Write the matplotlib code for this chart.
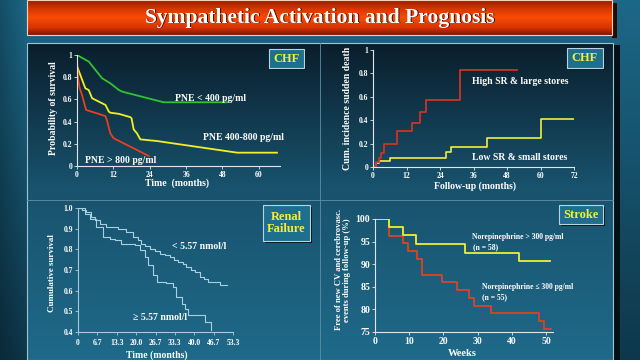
import numpy as np
import matplotlib
matplotlib.use("Agg")
import matplotlib.pyplot as plt
from matplotlib.patches import Rectangle

plt.rcParams['font.family'] = ['Liberation Serif', 'DejaVu Serif']
plt.rcParams['font.weight'] = 'bold'

# ---- data ----
# CHF: survival by plasma norepinephrine (months)
pne_low_t = [0, 3.9, 8.3, 11, 13.8, 14.9, 28.6, 49.5]
pne_low_s = [1.0, 0.94, 0.79, 0.745, 0.685, 0.67, 0.574, 0.574]
pne_mid_t = [0, 2.75, 3.85, 5, 9.4, 10.5, 11, 13.8, 17.6, 18, 18.7, 19.8, 20.9, 26.4, 52.9, 66]
pne_mid_s = [0.9, 0.70, 0.685, 0.61, 0.55, 0.49, 0.48, 0.47, 0.44, 0.43, 0.33, 0.294, 0.24, 0.225, 0.12, 0.12]
pne_high_t = [0, 0.2, 0.8, 1.65, 3, 9.4, 9.9, 11, 12.1, 23.7]
pne_high_s = [1.0, 0.83, 0.71, 0.64, 0.505, 0.45, 0.41, 0.294, 0.25, 0.09]

# CHF: cumulative incidence of sudden death
sr_high_t = [0, 1, 2, 3, 4, 8.5, 14, 17, 19, 31, 51.5]
sr_high_c = [0, 0.04, 0.08, 0.12, 0.2, 0.31, 0.38, 0.47, 0.57, 0.83, 0.83]
sr_low_t = [0, 1, 2, 6, 26, 28, 41, 60, 72]
sr_low_c = [0, 0.03, 0.05, 0.075, 0.125, 0.175, 0.25, 0.41, 0.41]

# Renal failure: cumulative survival
ne_lt_t = [0, 1.5, 2.9, 4.6, 6, 7.5, 9.8, 13.8, 16.6, 18.9, 20.5, 21.8, 23.2, 24.7, 26.5,
           28.1, 30, 31.6, 33, 34.4, 36, 37.3, 38.8, 40.2, 41.9, 43.4, 44.8, 48.8, 51.1]
ne_lt_s = [1.0, 0.99, 0.98, 0.956, 0.94, 0.924, 0.908, 0.9, 0.884, 0.86, 0.845, 0.827, 0.815, 0.803, 0.79,
           0.779, 0.771, 0.763, 0.75, 0.739, 0.727, 0.715, 0.70, 0.69, 0.666, 0.655, 0.642, 0.629, 0.626]
ne_ge_t = [0, 2.3, 4, 6.3, 8.6, 10.9, 12.6, 14.9, 19.5, 21.2, 23, 24.1, 25.8, 27, 30.4,
           32.7, 33.8, 35.6, 36.7, 37.9, 43, 43.6, 45.9]
ne_ge_s = [1.0, 0.973, 0.948, 0.908, 0.86, 0.852, 0.844, 0.827, 0.819, 0.795, 0.763, 0.723, 0.674, 0.642, 0.639,
           0.618, 0.569, 0.537, 0.513, 0.481, 0.481, 0.448, 0.408]

# Stroke: free of new events (%), weeks
st_high_t = [0, 4.2, 8.1, 11.9, 26.3, 42.1, 51.2]
st_high_v = [100, 98.2, 96.5, 94.4, 92.4, 90.6, 90.6]
st_low_t = [0, 4, 8.1, 9.5, 12.2, 13.6, 19.5, 24, 27.5, 29, 34, 47.8, 49.5, 51.5]
st_low_v = [100, 96.3, 94.7, 93, 91.2, 87.7, 86, 84.2, 82.6, 80.8, 79.1, 77.4, 75.7, 75.7]

W, H = 640, 360
fig = plt.figure(figsize=(6.4, 3.6), dpi=100)


def rect(x0, y0, x1, y1):
    return [x0 / W, 1 - y1 / H, (x1 - x0) / W, (y1 - y0) / H]


def ramp(n, knots, cols):
    t = np.linspace(0, 1, n)
    cols = np.array(cols) / 255.0
    return np.stack([np.interp(t, knots, cols[:, k]) for k in range(3)], axis=1)


# ---- slide background ----
img = np.zeros((H, W, 3))
img[:] = ramp(H, [0, 1], [(28, 104, 136), (14, 55, 74)])[:, None, :]
edge = np.clip(np.arange(W) / 27.0, 0, 1)
img[:, :27] *= (0.75 + 0.25 * edge[:27])[None, :, None]
img[43:360, 27:613] = ramp(317, [0, 0.45, 1], [(10, 30, 44), (24, 82, 108), (31, 106, 138)])[:, None, :]
img[45:360, 613:620] = (5 / 255, 15 / 255, 22 / 255)
img[0:35, 27:612] = ramp(35, [0, 0.25, 0.5, 0.8, 1],
                         [(150, 30, 0), (215, 55, 0), (250, 75, 5), (215, 52, 0), (130, 22, 0)])[:, None, :]
img[3:38, 612:617] = (40 / 255, 10 / 255, 5 / 255)

bg = fig.add_axes([0, 0, 1, 1])
bg.imshow(img, extent=(0, W, H, 0), aspect='auto', interpolation='bilinear')
bg.set_xlim(0, W)
bg.set_ylim(H, 0)
bg.axis('off')

bg.add_patch(Rectangle((27, 0), 585, 35, fill=False, ec='#f2d2bc', lw=0.8))
bg.add_patch(Rectangle((27, 43), 586, 317, fill=False, ec='#9fc4d4', lw=0.8))
bg.plot([320, 320], [43, 360], color='#5f8fa6', lw=0.6)
bg.plot([27, 613], [200, 200], color='#5f8fa6', lw=0.6)

bg.text(321, 18.5, 'Sympathetic Activation and Prognosis', color='#3a0a00',
        fontsize=15.5, ha='center', va='center')
bg.text(320, 17.5, 'Sympathetic Activation and Prognosis', color='white',
        fontsize=15.5, ha='center', va='center')


def badge(x0, y0, x1, y1, label):
    bg.add_patch(Rectangle((x0 + 2, y0 + 2), x1 - x0, y1 - y0, fc='#07131b', ec='none'))
    bg.add_patch(Rectangle((x0, y0), x1 - x0, y1 - y0, fc='#1e6f8e', ec='#b8d4e0', lw=0.8))
    bg.text((x0 + x1) / 2, (y0 + y1) / 2, label, color='#f2ee3a', fontsize=9,
            ha='center', va='center', linespacing=1.1)


badge(269, 49, 304, 68, 'CHF')
badge(567, 48, 603, 68, 'CHF')
badge(263, 205, 310, 241, 'Renal\nFailure')
badge(559, 205, 603, 224, 'Stroke')

lab = dict(color='white', ha='center', va='center')
bg.text(53, 108, 'Probability of survival', rotation=90, fontsize=7, **lab)
bg.text(177, 183, 'Time  (months)', fontsize=7, **lab)
bg.text(348, 108, 'Cum. incidence sudden death', rotation=90, fontsize=7, **lab)
bg.text(475, 186, 'Follow-up (months)', fontsize=7, **lab)
bg.text(52, 273, 'Cumulative survival', rotation=90, fontsize=6.5, **lab)
bg.text(157, 355, 'Time (months)', fontsize=7, **lab)
bg.text(343, 270, 'Free of new CV and cerebrovasc.\nevents during follow-up (%)',
        rotation=90, fontsize=6.2, linespacing=1.05, **lab)
bg.text(462, 354, 'Weeks', fontsize=7.5, **lab)


def style(ax, spine='#e0e8ee', size=5.5):
    ax.set_facecolor('none')
    for s in ['top', 'right']:
        ax.spines[s].set_visible(False)
    for s in ['left', 'bottom']:
        ax.spines[s].set_color(spine)
        ax.spines[s].set_linewidth(0.8)
    ax.tick_params(colors=spine, labelcolor='white', labelsize=size, length=2, width=0.6, pad=1.5)


# ---- panel 1 ----
ax1 = fig.add_axes(rect(77, 55, 280, 166))
style(ax1)
ax1.plot(pne_low_t, pne_low_s, color='#2fc42f', lw=1.3)
ax1.plot(pne_mid_t, pne_mid_s, color='#f2f020', lw=1.3)
ax1.plot(pne_high_t, pne_high_s, color='#e8401c', lw=1.3)
ax1.set_xlim(0, 67)
ax1.set_ylim(0, 1)
ax1.set_xticks([0, 12, 24, 36, 48, 60])
ax1.set_yticks([0, 0.2, 0.4, 0.6, 0.8, 1])
ax1.set_yticklabels(['0', '0.2', '0.4', '0.6', '0.8', '1'])
ax1.text(32.3, 0.61, 'PNE < 400 pg/ml', color='white', fontsize=7, va='center')
ax1.text(41.6, 0.26, 'PNE 400-800 pg/ml', color='white', fontsize=7, va='center')
ax1.text(2.6, 0.054, 'PNE > 800 pg/ml', color='white', fontsize=7, va='center')

# ---- panel 2 ----
ax2 = fig.add_axes(rect(373, 50, 574, 167))
style(ax2)
ax2.plot(sr_low_t, sr_low_c, color='#f0ee40', lw=1.2, drawstyle='steps-post')
ax2.plot(sr_high_t, sr_high_c, color='#cc3424', lw=1.3, drawstyle='steps-post')
ax2.set_xlim(0, 72)
ax2.set_ylim(0, 1)
ax2.set_xticks([0, 12, 24, 36, 48, 60, 72])
ax2.set_yticks([0, 0.2, 0.4, 0.6, 0.8, 1])
ax2.set_yticklabels(['0', '0.2', '0.4', '0.6', '0.8', '1'])
ax2.text(35.5, 0.727, 'High SR & large stores', color='white', fontsize=7, va='center')
ax2.text(35.5, 0.085, 'Low SR & small stores', color='white', fontsize=7, va='center')

# ---- panel 3 ----
ax3 = fig.add_axes(rect(78, 208, 233, 332))
style(ax3, spine='#a8cad8', size=5.5)
ax3.plot(ne_lt_t, ne_lt_s, color='#a8d0e0', lw=0.8, drawstyle='steps-post')
ax3.plot(ne_ge_t, ne_ge_s, color='#a8d0e0', lw=0.8, drawstyle='steps-post')
ax3.set_xlim(0, 53.3)
ax3.set_ylim(0.4, 1.0)
x3 = [0, 6.7, 13.3, 20.0, 26.7, 33.3, 40.0, 46.7, 53.3]
ax3.set_xticks(x3)
ax3.set_xticklabels(['0', '6.7', '13.3', '20.0', '26.7', '33.3', '40.0', '46.7', '53.3'])
ax3.set_yticks([0.4, 0.5, 0.6, 0.7, 0.8, 0.9, 1.0])
ax3.set_yticklabels(['0.4', '0.5', '0.6', '0.7', '0.8', '0.9', '1.0'])
ax3.tick_params(axis='x', pad=3)
ax3.text(32.3, 0.816, '< 5.57 nmol/l', color='white', fontsize=7, va='center')
ax3.text(18.9, 0.468, '\u2265 5.57 nmol/l', color='white', fontsize=7, va='center')

# ---- panel 4 ----
ax4 = fig.add_axes(rect(375, 219, 553, 332))
style(ax4, size=7)
ax4.plot(st_low_t, st_low_v, color='#dc4420', lw=1.3, drawstyle='steps-post')
ax4.plot(st_high_t, st_high_v, color='#f2ee30', lw=1.3, drawstyle='steps-post')
ax4.set_xlim(0, 52)
ax4.set_ylim(75, 100)
ax4.set_xticks([0, 10, 20, 30, 40, 50])
ax4.set_yticks([75, 80, 85, 90, 95, 100])
ax4.text(28.4, 96.0, 'Norepinephrine > 300 pg/ml', color='white', fontsize=5.5, va='center')
ax4.text(28.7, 93.8, '(n = 58)', color='white', fontsize=5.5, va='center')
ax4.text(31.3, 85.0, 'Norepinephrine \u2264 300 pg/ml', color='white', fontsize=5.5, va='center')
ax4.text(31.3, 82.7, '(n = 55)', color='white', fontsize=5.5, va='center')

fig.savefig('out.png', dpi=100)
